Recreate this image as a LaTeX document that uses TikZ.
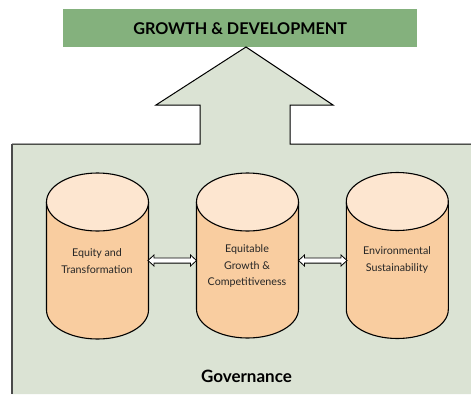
\documentclass[tikz,border=0pt]{standalone}
\usepackage{fontspec}
\setmainfont{Lato}
\definecolor{titlegreen}{HTML}{84B17D}
\definecolor{basegreen}{HTML}{DBE3D4}
\definecolor{cylbody}{HTML}{F9CDA0}
\definecolor{cyltop}{HTML}{FDE6D0}
\definecolor{edgegray}{HTML}{4A4A4A}
\tikzset{
  cyltopstyle/.style={fill=cyltop,draw=black,line width=1.1pt},
  cyltext/.style={font=\fontsize{10.7}{16.3}\selectfont,align=center,text=black!85},
  dblarrow/.style={fill=white,draw=black,line width=0.8pt,line join=miter},
  titlelabel/.style={font=\bfseries\fontsize{16.2}{18}\selectfont},
  govlabel/.style={font=\bfseries\fontsize{17}{18}\selectfont},
}
\newcommand{\cylat}[3]{% center x, top-ellipse center y, bottom-ellipse center y
  \fill[cylbody] (#1-51,#2) -- (#1-51,#3) arc[start angle=180,end angle=0,x radius=51,y radius=29] -- (#1+51,#2) -- cycle;
  \draw[black,line width=1.1pt] (#1-51,#2) -- (#1-51,#3) arc[start angle=180,end angle=0,x radius=51,y radius=29] -- (#1+51,#2);
  \draw[cyltopstyle] (#1,#2) ellipse[x radius=51,y radius=29];
}
\newcommand{\dblarr}[3]{% x1, x2, y
  \draw[dblarrow] (#1,#3) -- (#1+6,#3-5.5) -- (#1+6,#3-2.6) -- (#2-6,#3-2.6) -- (#2-6,#3-5.5) -- (#2,#3) -- (#2-6,#3+5.5) -- (#2-6,#3+2.6) -- (#1+6,#3+2.6) -- (#1+6,#3+5.5) -- cycle;
}
\begin{document}
\begin{tikzpicture}[x=1pt,y=-1pt]
\useasboundingbox (0,0) rectangle (471,394);
% title
\node[fill=titlegreen,minimum width=354pt,minimum height=38pt,inner sep=0pt,anchor=north west,titlelabel] (title) at (63,9) {GROWTH \& DEVELOPMENT};
% base shape with arrow
\fill[basegreen] (12,394) -- (12,144) -- (200,144) -- (200,105) -- (156,105) -- (246,47) -- (333,105) -- (290,105) -- (290,144) -- (471,144) -- (471,394) -- cycle;
\draw[black,line width=1pt,line join=miter] (12,144) -- (200,144) -- (200,105) -- (156,105) -- (246,47) -- (333,105) -- (290,105) -- (290,144) -- (471,144);
\draw[edgegray,line width=2pt] (12,394) -- (12,143.5);
% cylinders
\cylat{97.5}{202}{310}
\cylat{247.5}{202}{309}
\cylat{397.3}{201.5}{309.5}
\node[cyltext] (c1) at (97,261) {Equity and\\Transformation};
\node[cyltext] (c2) at (247,266) {Equitable\\Growth \&\\Competitiveness};
\node[cyltext] (c3) at (397,260) {Environmental\\Sustainability};
% arrows
\dblarr{148}{196.5}{260.5}
\dblarr{298.5}{347}{260.5}
\node[govlabel] (gov) at (246.5,376) {Governance};
\end{tikzpicture}
\end{document}
